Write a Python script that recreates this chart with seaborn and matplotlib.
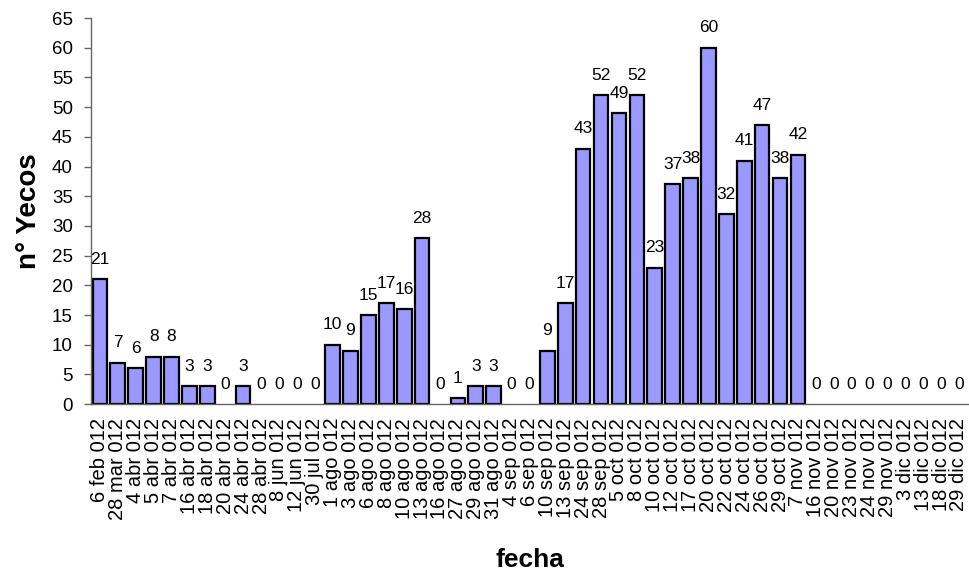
import matplotlib
matplotlib.use("Agg")
import matplotlib.pyplot as plt
import seaborn as sns
import pandas as pd

fechas = [
    "6 feb 012", "28 mar 012", "4 abr 012", "5 abr 012", "7 abr 012",
    "16 abr 012", "18 abr 012", "20 abr 012", "24 abr 012", "28 abr 012",
    "8 jun 012", "12 jun 012", "30 jul 012", "1 ago 012", "3 ago 012",
    "6 ago 012", "8 ago 012", "10 ago 012", "13 ago 012", "16 ago 012",
    "27 ago 012", "29 ago 012", "31 ago 012", "4 sep 012", "6 sep 012",
    "10 sep 012", "13 sep 012", "24 sep 012", "28 sep 012", "5 oct 012",
    "8 oct 012", "10 oct 012", "12 oct 012", "17 oct 012", "20 oct 012",
    "22 oct 012", "24 oct 012", "26 oct 012", "29 oct 012", "7 nov 012",
    "16 nov 012", "20 nov 012", "23 nov 012", "24 nov 012", "29 nov 012",
    "3 dic 012", "13 dic 012", "18 dic 012", "29 dic 012",
]
yecos = [
    21, 7, 6, 8, 8, 3, 3, 0, 3, 0,
    0, 0, 0, 10, 9, 15, 17, 16, 28, 0,
    1, 3, 3, 0, 0, 9, 17, 43, 52, 49,
    52, 23, 37, 38, 60, 32, 41, 47, 38, 42,
    0, 0, 0, 0, 0, 0, 0, 0, 0,
]
y_ticks = list(range(0, 66, 5))

df = pd.DataFrame({"fecha": fechas, "yecos": yecos})

sns.set_style("white")
plt.rcParams["font.family"] = ["Liberation Sans", "DejaVu Sans"]
plt.rcParams["text.color"] = "black"
plt.rcParams["xtick.color"] = "black"
plt.rcParams["ytick.color"] = "black"
plt.rcParams["axes.labelcolor"] = "black"

fig = plt.figure(figsize=(9.69, 5.74), dpi=100)
ax = fig.add_axes([0.0939, 0.296, 0.905, 0.6725])

sns.barplot(data=df, x="fecha", y="yecos", order=fechas, color="#9999FF",
            saturation=1, width=0.82, edgecolor="black", linewidth=1.6, ax=ax)

# empty dates get no visible bar outline
for patch in ax.patches:
    if patch.get_height() == 0:
        patch.set_linewidth(0)

n = len(fechas)
ax.set_xlim(-0.5, n - 0.5)
ax.set_ylim(0, 65)
ax.set_yticks(y_ticks)
ax.set_yticklabels([str(v) for v in y_ticks], fontsize=13.5)

# category labels at bar centres, tick marks on category boundaries
ax.set_xticks(range(n))
ax.set_xticklabels(fechas, rotation=90, fontsize=14.5)
ax.set_xticks([i - 0.5 for i in range(n + 1)], minor=True)
ax.tick_params(axis="x", which="major", length=0, pad=10)
ax.tick_params(axis="x", which="minor", length=5, width=1, color="#666666", direction="out")
ax.tick_params(axis="y", length=5, width=1, color="#666666", labelcolor="black",
               direction="out", pad=8, left=True)

for side in ["top", "right"]:
    ax.spines[side].set_visible(False)
for side in ["left", "bottom"]:
    ax.spines[side].set_color("#666666")
    ax.spines[side].set_linewidth(1)

# value labels above each bar
for i, v in enumerate(yecos):
    ax.annotate(str(v), xy=(i, v), xytext=(0, 11), textcoords="offset points",
                ha="center", va="baseline", fontsize=12.5, color="black")

ax.set_xlabel("fecha", fontsize=19, fontweight="bold", labelpad=20)
ax.set_ylabel("n° Yecos", fontsize=20, fontweight="bold", labelpad=7)

fig.savefig("out.png", dpi=100)
